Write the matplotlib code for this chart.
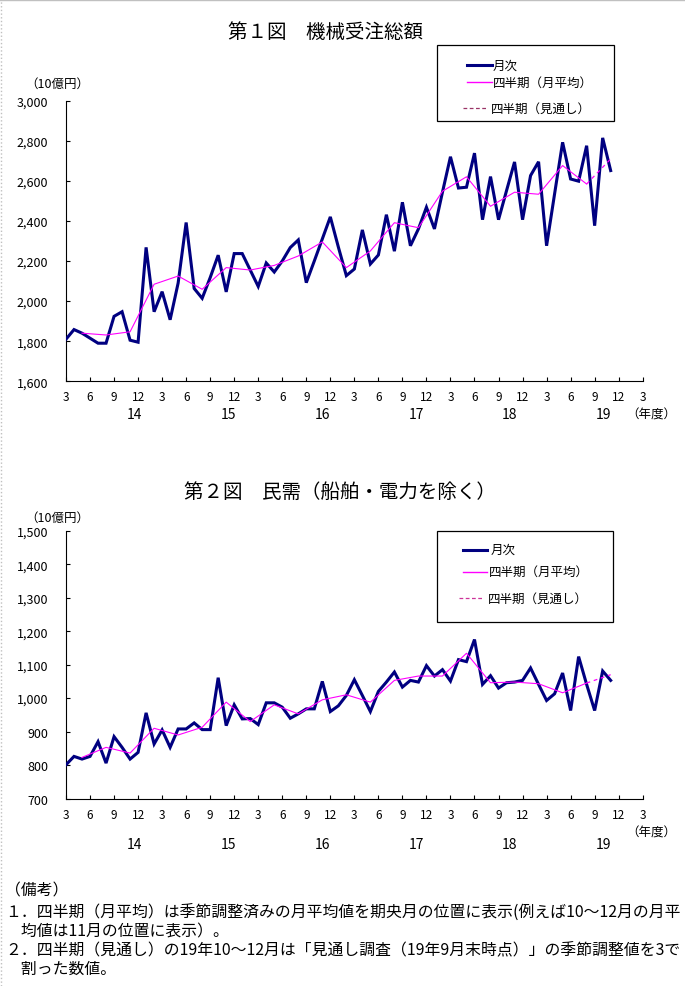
import matplotlib
matplotlib.use("Agg")
import matplotlib.pyplot as plt
from matplotlib.lines import Line2D
from matplotlib.patches import Rectangle

plt.rcParams['font.family'] = ['Noto Sans CJK JP', 'DejaVu Sans']

# Data (10億円), monthly from the first "3" tick, quarterly at mid-month
# ---------------------------------------------------------------------

total_monthly = [1810, 1858, 1840, 1815, 1790, 1790, 1924, 1947, 1805, 1795,
                 2268, 1947, 2047, 1907, 2090, 2392, 2063, 2014, 2117, 2229,
                 2046, 2237, 2237, 2155, 2073, 2190, 2145, 2200, 2267, 2305,
                 2092, 2200, 2310, 2420, 2270, 2127, 2160, 2355, 2185, 2230,
                 2431, 2249, 2493, 2276, 2360, 2468, 2360, 2543, 2720, 2564,
                 2568, 2738, 2406, 2621, 2406, 2551, 2694, 2406, 2626, 2695,
                 2276, 2535, 2792, 2609, 2598, 2775, 2376, 2814, 2651]
total_quarterly = [1840, 1831, 1847, 2084, 2125, 2059, 2167, 2155, 2178, 2225,
                   2295, 2167, 2250, 2391, 2366, 2548, 2620, 2473, 2543, 2533,
                   2676, 2584]
total_outlook = 2709

private_monthly = [801, 826, 818, 826, 870, 806, 885, 853, 818, 838,
                   956, 863, 905, 853, 908, 908, 926, 906, 906, 1061,
                   918, 980, 938, 939, 921, 986, 986, 973, 940, 953,
                   968, 968, 1050, 960, 977, 1008, 1055, 1008, 960, 1020,
                   1048, 1078, 1033, 1053, 1048, 1097, 1066, 1085, 1051, 1115,
                   1109, 1175, 1041, 1067, 1030, 1046, 1048, 1053, 1090, 1041,
                   993, 1013, 1075, 963, 1124, 1041, 963, 1081, 1053]
private_quarterly = [823, 853, 836, 910, 890, 913, 988, 930, 980, 953,
                     995, 1010, 988, 1053, 1066, 1066, 1134, 1046, 1048, 1043,
                     1016, 1045]
private_outlook = 1070

month_labels = ["3", "6", "9", "12"]
fiscal_years = ["14", "15", "16", "17", "18", "19"]
year_label_pos = [8.5, 20.3, 32.0, 43.7, 55.4, 67.1]

notes = [
    "（備考）",
    "１．四半期（月平均）は季節調整済みの月平均値を期央月の位置に表示(例えば10～12月の月平",
    "　均値は11月の位置に表示）。",
    "２．四半期（見通し）の19年10～12月は「見通し調査（19年9月末時点）」の季節調整値を3で",
    "　割った数値。",
]

# Draw Plot
# ---------

W, H = 685, 987
fig = plt.figure(figsize=(W / 100, H / 100), dpi=100)
fig.patch.set_facecolor("white")

NAVY = "#000080"
PINK = "#ff00ff"


def fx(x):
    return x / W


def fy(y):
    return 1 - y / H


def draw_chart(top, bottom, monthly, quarterly, outlook, ylim, ystep,
               year_dy, nendo_dy):
    ax = fig.add_axes([fx(66), fy(bottom), fx(642.7 - 66), (bottom - top) / H])
    x_m = list(range(len(monthly)))
    x_q = list(range(2, 2 + 3 * len(quarterly), 3))
    ax.plot(x_m, monthly, color=NAVY, lw=2.2, solid_joinstyle="miter", zorder=3)
    ax.plot(x_q, quarterly, color=PINK, lw=0.8, zorder=4)
    ax.plot([x_q[-1], x_q[-1] + 3], [quarterly[-1], outlook], color=PINK,
            lw=0.9, dashes=(3, 3), zorder=4)

    ax.set_xlim(0, 72)
    ax.set_ylim(*ylim)
    ax.set_xticks(range(0, 73, 3))
    ax.set_xticklabels([month_labels[k % 4] for k in range(25)])
    yt = list(range(ylim[0], ylim[1] + 1, ystep))
    ax.set_yticks(yt)
    ax.set_yticklabels([f"{v:,}" for v in yt])
    for s in ["top", "right"]:
        ax.spines[s].set_visible(False)
    for s in ["left", "bottom"]:
        ax.spines[s].set_linewidth(0.8)
    ax.tick_params(axis="both", direction="in", length=3, width=0.8)
    ax.tick_params(axis="y", pad=13, labelsize=9)
    ax.tick_params(axis="x", pad=6.5, labelsize=8.5)

    for lab, pos in zip(fiscal_years, year_label_pos):
        ax.annotate(lab, xy=(pos, 0), xycoords=("data", "axes fraction"),
                    xytext=(0, -year_dy * 0.72), textcoords="offset points",
                    ha="center", va="center", fontsize=10)
    ax.annotate("（年度）", xy=(73.1, 0), xycoords=("data", "axes fraction"),
                xytext=(0, -nendo_dy * 0.72), textcoords="offset points",
                ha="center", va="center", fontsize=9)
    return ax


def draw_legend(box, rows, dash_color):
    l, t, r, b = box
    fig.patches.append(Rectangle((fx(l), fy(b)), fx(r - l), (b - t) / H,
                                 transform=fig.transFigure, facecolor="white",
                                 edgecolor="black", lw=0.9, zorder=5))
    styles = [dict(color=NAVY, lw=2.2), dict(color=PINK, lw=1.0),
              dict(color=dash_color, lw=0.9, dashes=(3, 2))]
    names = ["月次", "四半期（月平均）", "四半期（見通し）"]
    for (x0, x1, y, tx), st, name in zip(rows, styles, names):
        fig.lines.append(Line2D([fx(x0), fx(x1)], [fy(y), fy(y)],
                                transform=fig.transFigure, zorder=6, **st))
        fig.text(fx(tx), fy(y), name, ha="left", va="center", fontsize=9,
                 zorder=6)


# 第1図
draw_chart(101.6, 382.3, total_monthly, total_quarterly, total_outlook,
           (1600, 3000), 200, 33, 33)
fig.text(fx(325), fy(32), "第１図　機械受注総額", ha="center", va="center",
         fontsize=14)
fig.text(fx(25), fy(84), "（10億円）", ha="left", va="center", fontsize=9)
draw_legend((437, 46, 614, 122),
            [(467, 492, 66, 493), (467, 492, 83.3, 493), (463, 487, 109, 491)],
            "#993366")

# 第2図
draw_chart(531.7, 799.6, private_monthly, private_quarterly, private_outlook,
           (700, 1500), 100, 45.5, 33.5)
fig.text(fx(340), fy(492), "第２図　民需（船舶・電力を除く）", ha="center",
         va="center", fontsize=14)
fig.text(fx(25), fy(518), "（10億円）", ha="left", va="center", fontsize=9)
draw_legend((437, 532, 613, 623),
            [(463, 487, 550.7, 491), (463, 487, 572.7, 489), (459, 483, 599.3, 488)],
            "#cc3399")

# 備考
note_y = [891, 913, 932, 951, 969]
for txt, y in zip(notes, note_y):
    fig.text(fx(5), fy(y), txt, ha="left", va="center", fontsize=11.4)

# page frame (thin grey edge on the top and left)
fig.lines.append(Line2D([0, 1], [fy(0.5), fy(0.5)], transform=fig.transFigure,
                        color="#c0c0c0", lw=1))
fig.lines.append(Line2D([fx(0.5), fx(0.5)], [0, 1], transform=fig.transFigure,
                        color="#c0c0c0", lw=1, ls=":"))

fig.savefig("out.png", dpi=100)
